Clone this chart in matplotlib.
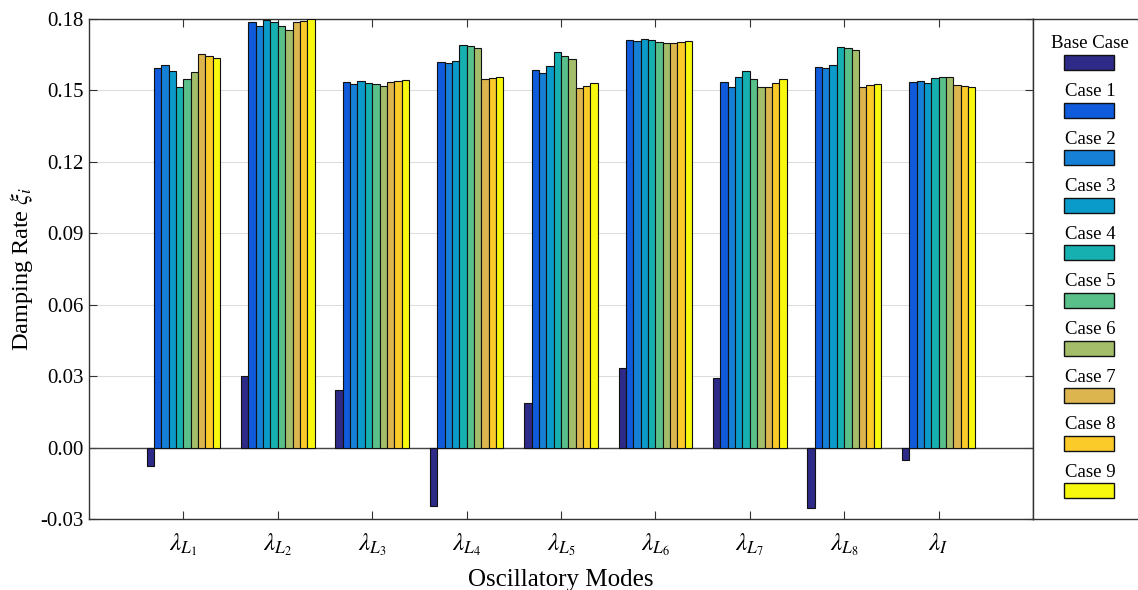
import numpy as np
import matplotlib
matplotlib.use("Agg")
import matplotlib.pyplot as plt
from matplotlib.patches import Rectangle

plt.rcParams['font.family'] = ['Liberation Serif', 'DejaVu Serif']
plt.rcParams['mathtext.fontset'] = 'stix'

modes = [r'$\lambda_{L_1}$', r'$\lambda_{L_2}$', r'$\lambda_{L_3}$', r'$\lambda_{L_4}$',
         r'$\lambda_{L_5}$', r'$\lambda_{L_6}$', r'$\lambda_{L_7}$', r'$\lambda_{L_8}$',
         r'$\lambda_{I}$']
cases = ['Base Case', 'Case 1', 'Case 2', 'Case 3', 'Case 4', 'Case 5',
         'Case 6', 'Case 7', 'Case 8', 'Case 9']
colors = ['#2E2A87', '#0F5BDB', '#1680D6', '#0A9BCB', '#16B0B0', '#5AC08A',
          '#A3BD6A', '#DDB54E', '#FBCB2A', '#F8F80F']

base_case = [-0.0078, 0.0299, 0.0240, -0.0246, 0.0187, 0.0334, 0.0292, -0.0255, -0.0053]
case1 = [0.1596, 0.1786, 0.1534, 0.1620, 0.1586, 0.1711, 0.1536, 0.1599, 0.1534]
case2 = [0.1607, 0.1772, 0.1527, 0.1615, 0.1572, 0.1706, 0.1516, 0.1593, 0.1538]
case3 = [0.1582, 0.1795, 0.1540, 0.1625, 0.1602, 0.1716, 0.1555, 0.1606, 0.1532]
case4 = [0.1515, 0.1786, 0.1533, 0.1692, 0.1662, 0.1712, 0.1582, 0.1684, 0.1551]
case5 = [0.1550, 0.1769, 0.1526, 0.1686, 0.1646, 0.1705, 0.1550, 0.1677, 0.1555]
case6 = [0.1576, 0.1753, 0.1519, 0.1680, 0.1632, 0.1698, 0.1516, 0.1669, 0.1557]
case7 = [0.1653, 0.1786, 0.1534, 0.1547, 0.1509, 0.1698, 0.1516, 0.1516, 0.1522]
case8 = [0.1643, 0.1792, 0.1540, 0.1551, 0.1520, 0.1702, 0.1532, 0.1522, 0.1519]
case9 = [0.1635, 0.1800, 0.1545, 0.1557, 0.1533, 0.1706, 0.1548, 0.1527, 0.1515]
series = [base_case, case1, case2, case3, case4, case5, case6, case7, case8, case9]

yticks = [-0.03, 0.00, 0.03, 0.06, 0.09, 0.12, 0.15, 0.18]

fig = plt.figure(figsize=(11.38, 5.9), dpi=100)
ax = fig.add_axes([89/1138, 71/590, (1033-89)/1138, (519-19)/590])

x = np.arange(1, len(modes) + 1)
bw = 0.078
n = len(series)
for i, (vals, c) in enumerate(zip(series, colors)):
    ax.bar(x + (i - (n - 1) / 2) * bw, vals, width=bw, color=c,
           edgecolor='#111111', linewidth=0.8, zorder=3)

ax.set_xlim(0.0, 10.0)
ax.set_ylim(-0.03, 0.18)
ax.set_yticks(yticks)
ax.set_yticklabels([f'{v:.2f}' for v in yticks])
ax.set_xticks(x)
ax.set_xticklabels(modes, fontsize=18)
ax.tick_params(axis='y', labelsize=15, direction='in', length=6, right=True,
               color='#333333', pad=4)
ax.tick_params(axis='x', direction='in', length=6, top=True, color='#333333', pad=9)
ax.grid(axis='y', color='#dddddd', linewidth=0.8, zorder=0)
ax.axhline(0, color='#444444', linewidth=1.0, zorder=2)
for s in ax.spines.values():
    s.set_color('#333333')
    s.set_linewidth(1.0)

ax.set_xlabel('Oscillatory Modes', fontsize=18, labelpad=8)
ax.set_ylabel(r'Damping Rate $\xi_i$', fontsize=17.5, labelpad=4)

# Legend box (text above swatch)
lax = fig.add_axes([1033/1138, 71/590, 120/1138, (519-19)/590])
lax.set_xlim(1033, 1153)
lax.set_ylim(519, 19)
lax.set_xticks([])
lax.set_yticks([])
for s in lax.spines.values():
    s.set_color('#333333')
    s.set_linewidth(1.0)
for i, (name, c) in enumerate(zip(cases, colors)):
    ty = 44 + i * 47.6
    lax.text(1090, ty, name, ha='center', va='center', fontsize=13.5)
    lax.add_patch(Rectangle((1064, ty + 11), 50, 15, facecolor=c,
                            edgecolor='#111111', linewidth=1.0))

fig.savefig('out.png', dpi=100)
